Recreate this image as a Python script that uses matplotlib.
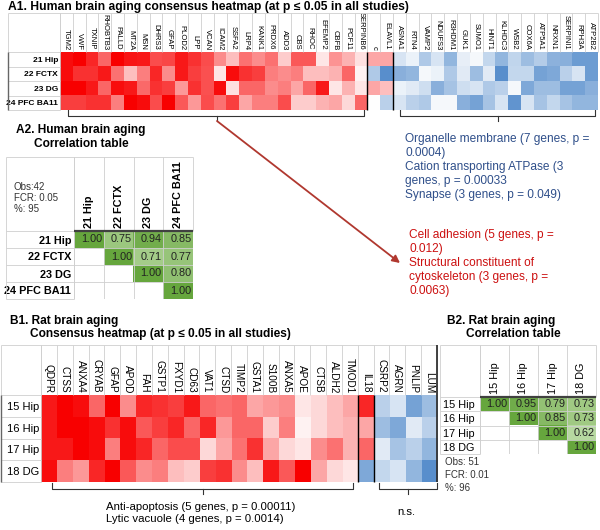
"""
Consensus heatmaps + correlation tables (human / rat brain aging)
Output: out.png (600 x 530)
"""
import numpy as np
import matplotlib
matplotlib.use("Agg")
import matplotlib.pyplot as plt
from matplotlib.colors import LinearSegmentedColormap

plt.rcParams["font.family"] = ["Liberation Sans", "DejaVu Sans"]

W, H = 600, 530
nan = np.nan

# ---------------- data ----------------
human_genes = ["TGM2", "VWF", "TXNIP", "RHOBTB3", "PALLD", "MT2A", "MSN", "DHRS3",
               "GFAP", "PLOD2", "LPP", "VCAN", "ICAM2", "SSFA2", "LRP4", "KANK1",
               "PRDX6", "ADD3", "CBS", "RHOC", "EFEMP2", "CBFB", "PCF11", "SERPINB6",
               "c", "ELAVL1",
               "ASNA1", "RTN4", "VAMP2", "NDUFS3", "R3HDM1", "GUK1", "SUMO1", "HINT1",
               "KLHDC3", "WSB2", "COX6A", "ATP5A1", "NRXN1", "SERPINI1", "RPH3A", "ATP2B2"]
human_rows = ["21 Hip", "22 FCTX", "23 DG", "24 PFC BA11"]
# signed intensity: >0 up (red), <0 down (blue)
human_heat = [
    [0.95, 1.0, 0.85, 0.6, 1.0, 0.92, 0.9, 0.7, 0.72, 0.9, 0.8, 0.7, 0.45, 0.25, 0.55, 0.45,
     0.55, 0.2, 0.65, 0.65, 0.1, 0.42, 0.3, 0.12,
     0.35, 0.35,
     -0.2, -0.1, -0.4, -0.2, -0.55, -0.12, -0.05, -0.3, -0.55, -0.32, -0.5, -0.38, -0.58, -0.6, -0.75, -0.75],
    [0.95, 0.8, 0.8, 0.9, 0.55, 0.25, 0.5, 0.85, 0.45, 0.9, 0.75, 0.68, 0.1, 0.95, 0.8, 0.75,
     0.5, 0.45, 0.5, 0.25, 0.25, 0.3, 0.6, 0.05,
     -0.4, -0.85,
     -0.6, -0.55, -0.05, -0.1, -0.4, -0.15, -0.5, -0.15, -0.85, -0.3, -0.3, -0.7, -0.65, -0.35, -0.2, -0.75],
    [1.0, 1.0, 0.9, 0.6, 0.95, 0.9, 0.58, 0.8, 0.75, 0.4, 0.8, 0.68, 0.95, 0.12, 0.6, 0.6,
     0.45, 0.5, 0.35, 0.6, 0.9, 0.1, 0.3, 0.1,
     0.35, 0.25,
     -0.1, -0.15, -0.25, -0.6, -0.45, -0.25, -0.2, -0.4, -0.35, -0.05, -0.65, -0.5, -0.5, -0.7, -0.7, -0.6],
    [0.75, 0.75, 0.8, 0.8, 0.5, 1.0, 0.95, 0.7, 1.0, 0.65, 0.4, 0.7, 0.55, 0.75, 0.35, 0.5,
     0.5, 0.7, 0.2, 0.2, 0.3, 0.35, 0.15, 0.6,
     0.0, -0.35,
     -0.2, -0.35, -0.4, -0.05, -0.05, -0.6, -0.7, -0.45, -0.2, -0.8, -0.2, -0.45, -0.3, -0.45, -0.55, -0.55],
]
human_corr_cols = ["21 Hip", "22 FCTX", "23 DG", "24 PFC BA11"]
human_corr = [
    [1.00, 0.75, 0.94, 0.85],
    [nan, 1.00, 0.71, 0.77],
    [nan, nan, 1.00, 0.80],
    [nan, nan, nan, 1.00],
]
human_stats = "Obs:42\nFCR: 0.05\n%: 95"

rat_genes = ["QDPR", "CTSS", "ANXA4", "CRYAB", "GFAP", "APOD", "FAH", "GSTP1", "FXYD1",
             "CD63", "VAT1", "CTSD", "TIMP2", "GSTA1", "S100B", "ANXA5", "APOE", "CTSB",
             "ALDH2", "TMOD1", "IL18", "CSRP2", "AGRN", "PNLIP", "LUM"]
rat_rows = ["15 Hip", "16 Hip", "17 Hip", "18 DG"]
rat_heat = [
    [0.9, 1.0, 0.95, 0.6, 1.0, 0.45, 0.85, 0.8, 0.75, 0.9, 0.6, 0.55, 0.6, 0.35, 0.4, 0.45,
     0.1, 0.15, 0.25, 0.35, 0.85, -0.35, -0.2, -0.7, -0.5],
    [0.9, 1.0, 1.0, 0.95, 0.8, 0.95, 0.65, 0.75, 0.85, 0.6, 0.85, 0.4, 0.6, 0.6, 0.2, 0.5,
     0.05, 0.15, 0.25, 0.3, 0.35, -0.5, -0.65, -0.15, -0.35],
    [0.9, 0.9, 1.0, 0.95, 0.5, 0.95, 0.85, 0.6, 0.7, 0.7, 0.15, 0.35, 0.55, 0.8, 0.35, 0.15,
     0.1, 0.45, 0.55, 0.3, 0.6, -0.15, -0.45, -0.35, -0.55],
    [0.95, 0.5, 0.4, 0.85, 1.0, 0.65, 0.45, 0.5, 0.25, 0.2, 0.75, 0.8, 0.45, 0.25, 0.9, 0.65,
     1.0, 0.35, 0.15, 0.1, -0.65, -0.3, -0.2, -0.55, -0.85],
]
rat_corr_cols = ["15 Hip", "16 Hip", "17 Hip", "18 DG"]
rat_corr = [
    [1.00, 0.95, 0.79, 0.73],
    [nan, 1.00, 0.85, 0.73],
    [nan, nan, 1.00, 0.62],
    [nan, nan, nan, 1.00],
]
rat_stats = "Obs: 51\nFCR: 0.01\n%: 96"

human_up_terms = ("Cell adhesion (5 genes, p =\n0.012)\nStructural constituent of\n"
                  "cytoskeleton (3 genes, p =\n0.0063)")
human_down_terms = ("Organelle membrane (7 genes, p =\n0.0004)\nCation transporting ATPase (3\n"
                    "genes, p = 0.00033\nSynapse (3 genes, p = 0.049)")
rat_up_terms = "Anti-apoptosis (5 genes, p = 0.00011)\nLytic vacuole (4 genes, p = 0.0014)"
rat_down_terms = "n.s."

# ---------------- styles ----------------
heat_cmap = LinearSegmentedColormap.from_list(
    "rb", [(0, "#3b7bc4"), (0.5, "#ffffff"), (1, "#f80000")])
green_cmap = LinearSegmentedColormap.from_list("g", ["#bcdba6", "#66a63d"])
green_cmap.set_bad("white")
GRID = "#cfcfcf"
DARK = "#333333"

fig = plt.figure(figsize=(W / 100, H / 100), dpi=100)


def fbox(x0, y0, x1, y1):
    """pixel box (top-left origin) -> figure fraction"""
    return [x0 / W, 1 - y1 / H, (x1 - x0) / W, (y1 - y0) / H]


def table_grid(ax, n, m, header_h, label_w):
    """light grid for header + row-label cells (data units, imshow orientation)"""
    top = -0.5 - header_h
    left = -0.5 - label_w
    ax.vlines(np.arange(n + 1) - 0.5, top, -0.5, colors=GRID, lw=0.6, clip_on=False)
    ax.hlines(np.arange(m + 1) - 0.5, left, -0.5, colors=GRID, lw=0.6, clip_on=False)
    ax.hlines(top, left, n - 0.5, colors=GRID, lw=0.6, clip_on=False)
    ax.vlines(left, top, m - 0.5, colors=GRID, lw=0.6, clip_on=False)
    ax.vlines(-0.5, top, m - 0.5, colors=GRID, lw=0.6, clip_on=False)


def fix_limits(ax, n, m):
    ax.set_xlim(-0.5, n - 0.5)
    ax.set_ylim(m - 0.5, -0.5)


def heatmap(box, data, genes, rows, gfs, rfs, rbold, header_h, label_w, seps):
    ax = fig.add_axes(fbox(*box))
    data = np.array(data)
    ax.imshow(data, cmap=heat_cmap, vmin=-1, vmax=1, aspect="auto", interpolation="nearest")
    ax.set_xticks(range(len(genes)))
    ax.set_xticklabels(genes, rotation=270, fontsize=gfs)
    ax.xaxis.tick_top()
    ax.set_yticks(range(len(rows)))
    ax.set_yticklabels(rows, fontsize=rfs, fontweight="bold" if rbold else "normal")
    ax.tick_params(length=0, pad=1.5)
    for s in ax.spines.values():
        s.set_visible(False)
    n, m = len(genes), len(rows)
    table_grid(ax, n, m, header_h, label_w)
    ax.vlines(-0.5 - label_w, -0.5, m - 0.5, colors="#666666", lw=1.0, clip_on=False)
    ax.vlines(seps, -0.5, m - 0.5, colors="black", lw=1.0, clip_on=False)
    fix_limits(ax, n, m)
    return ax


def corr_table(box, corr, cols, rows, fs, bold, header_h, label_px, row_ha):
    ax = fig.add_axes(fbox(*box))
    corr = np.array(corr, dtype=float)
    n, m = len(cols), len(rows)
    label_w = label_px / ((box[2] - box[0]) / n)
    ax.imshow(np.ma.masked_invalid(corr), cmap=green_cmap, vmin=0.6, vmax=1.0,
              aspect="auto", interpolation="nearest")
    fw = "bold" if bold else "normal"
    ax.set_xticks(range(n))
    ax.set_xticklabels(cols, rotation=90, fontsize=fs, fontweight=fw)
    ax.xaxis.tick_top()
    ax.set_yticks(range(m))
    ax.set_yticklabels(rows, fontsize=fs, fontweight=fw)
    ax.tick_params(length=0, pad=2)
    if row_ha == "left":
        for t in ax.get_yticklabels():
            t.set_ha("left")
        ax.tick_params(axis="y", pad=(label_px - 3) * 0.72)
    for s in ax.spines.values():
        s.set_visible(False)
    ax.vlines(np.arange(n + 1) - 0.5, -0.5, m - 0.5, colors=GRID, lw=0.6)
    ax.hlines(np.arange(m + 1) - 0.5, -0.5, n - 0.5, colors=GRID, lw=0.6)
    table_grid(ax, n, m, header_h, label_w)
    ax.hlines(-0.5, -0.5, n - 0.5, colors="#404040", lw=1.6, clip_on=False)
    for i in range(m):
        for j in range(n):
            if not np.isnan(corr[i, j]):
                ax.text(j + 0.45, i, f"{corr[i, j]:.2f}", ha="right", va="center",
                        fontsize=fs, color="#222222")
    fix_limits(ax, n, m)
    return ax


# overlay for titles, brackets, arrow, annotation text (pixel coords)
ov = fig.add_axes([0, 0, 1, 1])
ov.set_xlim(0, W)
ov.set_ylim(H, 0)
ov.axis("off")

# ---------------- A1 ----------------
heatmap((60, 52, 598, 110), human_heat, human_genes, human_rows, 5.5, 6, True,
        header_h=39 / 14.5, label_w=52 / 12.81, seps=[23.5, 25.5])
ov.text(8, 1, "A1. Human brain aging consensus heatmap (at p \u2264 0.05 in all studies)",
        fontsize=8.7, fontweight="bold", va="top", ha="left")


def bracket(x0, x1, y, xc, h=6, t=5):
    ov.plot([x0, x0, x1, x1], [y - h, y, y, y - h], color=DARK, lw=0.8)
    ov.plot([xc, xc], [y, y + t], color=DARK, lw=0.8)


bracket(68, 364, 116, 217)
bracket(400, 595, 116, 498)
ov.annotate("", xy=(400, 263), xytext=(217, 121),
            arrowprops=dict(arrowstyle="-|>", color="#b0382f", lw=1.3, mutation_scale=11,
                            shrinkA=0, shrinkB=0))
ov.text(405, 133, human_down_terms, color="#2f4f8a", fontsize=8.6, va="top", ha="left",
        linespacing=1.22)
ov.text(409, 229, human_up_terms, color="#cc1010", fontsize=8.6, va="top", ha="left",
        linespacing=1.22)

# ---------------- A2 ----------------
ov.text(81, 124, "A2. Human brain aging\nCorrelation table", fontsize=8.6,
        fontweight="bold", va="top", ha="center", multialignment="center")
corr_table((74, 231, 193, 299), human_corr, human_corr_cols, human_rows, 7.8, True,
           header_h=74 / 17, label_px=68, row_ha="right")
ov.text(14, 182, human_stats, fontsize=7, va="top", ha="left", color="#333333",
        linespacing=1.15)

# ---------------- B1 ----------------
ov.text(10, 315, "B1. Rat brain aging", fontsize=8.6, fontweight="bold", va="top")
ov.text(30, 328, "Consensus heatmap (at p \u2264 0.05 in all studies)", fontsize=8.6,
        fontweight="bold", va="top")
rat_ax = heatmap((41, 395, 437, 482), rat_heat, rat_genes, rat_rows, 7.2, 8, False,
                 header_h=50 / 21.75, label_w=40 / 15.84, seps=[19.5, 20.5])
rat_ax.vlines(24.5, -0.5 - 50 / 21.75, 3.5, colors=DARK, lw=1.3, clip_on=False)
fix_limits(rat_ax, len(rat_genes), len(rat_rows))
bracket(52, 353, 489, 203)
bracket(379, 437, 489, 408)
ov.text(106, 502, rat_up_terms, fontsize=8.2, va="top", ha="left", linespacing=1.25)
ov.text(406, 507, rat_down_terms, fontsize=8.2, va="top", ha="center")

# ---------------- B2 ----------------
ov.text(447, 315, "B2. Rat brain aging", fontsize=8.6, fontweight="bold", va="top")
ov.text(466, 328, "Correlation table", fontsize=8.6, fontweight="bold", va="top")
corr_table((480, 397, 596, 454), rat_corr, rat_corr_cols, rat_rows, 7.8, False,
           header_h=52 / 14.25, label_px=40, row_ha="left")
ov.text(445, 457, rat_stats, fontsize=7, va="top", ha="left", color="#333333",
        linespacing=1.35)

fig.savefig("out.png", dpi=100)
